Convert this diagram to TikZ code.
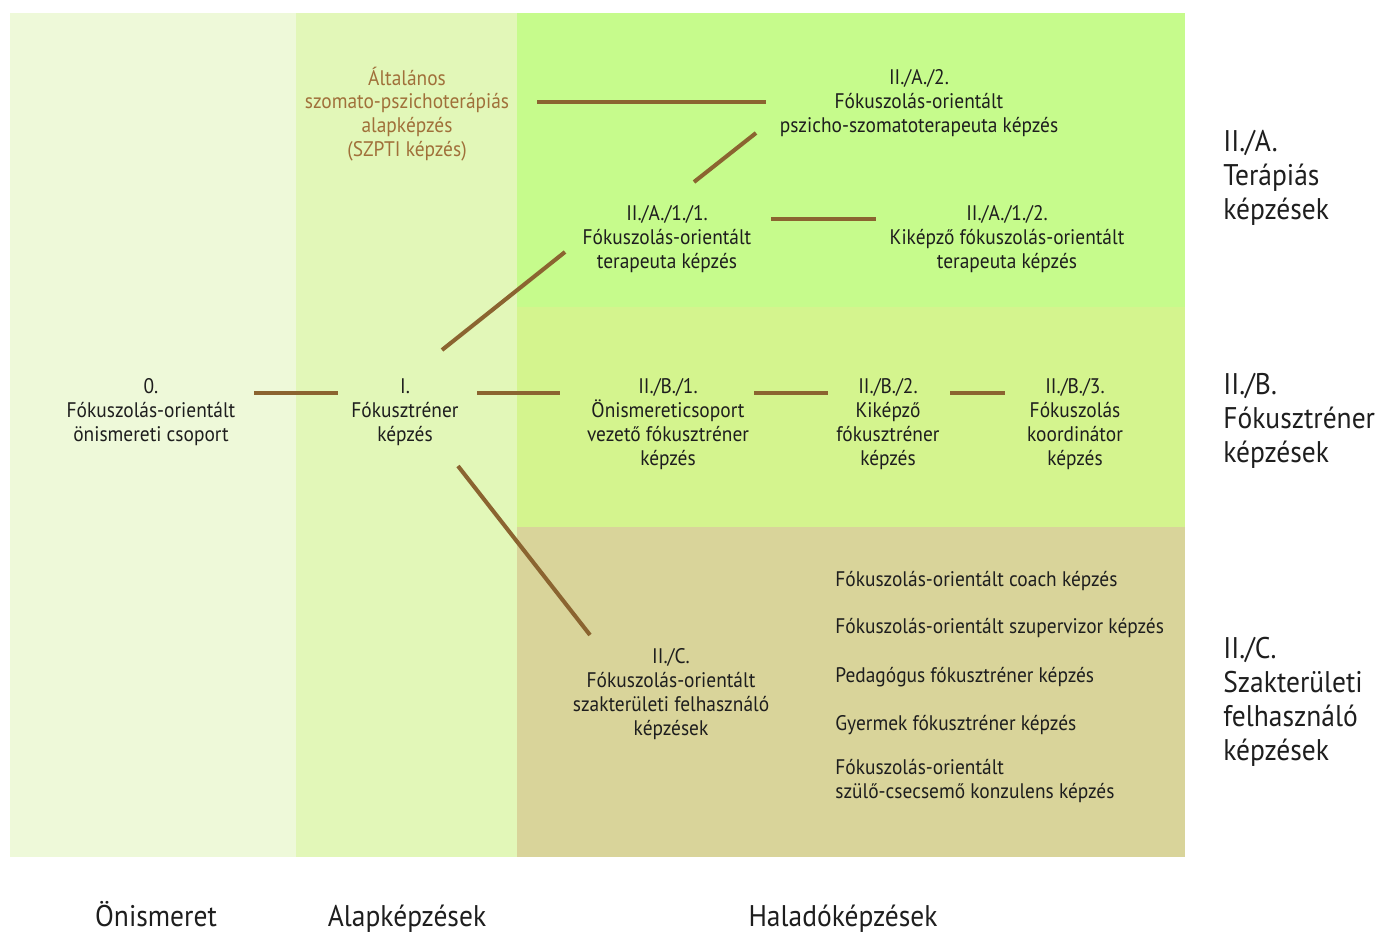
\documentclass[tikz,border=0pt]{standalone}
\usepackage{fontspec}
\setmainfont{PT Sans}[FakeStretch=0.92]
\usetikzlibrary{positioning}
\definecolor{onism}{RGB}{238,249,217}
\definecolor{alap}{RGB}{226,247,184}
\definecolor{terap}{RGB}{198,251,140}
\definecolor{trener}{RGB}{212,244,142}
\definecolor{szakt}{RGB}{217,212,154}
\definecolor{barna}{RGB}{139,100,48}
\definecolor{barnatxt}{RGB}{160,112,58}
\definecolor{txt}{RGB}{30,30,30}

\begin{document}
\begin{tikzpicture}[x=0.02cm, y=-0.02cm,
                    box/.style = {align=center, inner sep=0pt, text=txt,
                                  font=\fontsize{12}{13.6}\selectfont},
                    item/.style = {align=left, anchor=west, inner sep=0pt, text=txt,
                                   font=\fontsize{12}{13.6}\selectfont},
                    side/.style = {align=left, anchor=west, inner sep=0pt, text=txt,
                                   font=\fontsize{17}{19.3}\selectfont},
                    foot/.style = {anchor=base, inner sep=0pt, text=txt, font=\fontsize{17}{20}\selectfont},
                    link/.style = {draw=barna, line width=2.3pt}]
    \useasboundingbox (0,0) rectangle (1378,935);

    % columns and bands
    \fill[onism] (10,13) rectangle (296,857);
    \fill[alap] (296,13) rectangle (517,857);
    \fill[terap] (517,13) rectangle (1185,307);
    \fill[trener] (517,307) rectangle (1185,527);
    \fill[szakt] (517,527) rectangle (1185,857);

    \node[box] (n0) at (151,412) {0.\\Fókuszolás-orientált\\önismereti csoport};
    \node[box] (nI) at (405,412) {I.\\Fókusztréner\\képzés};
    \node[box, text=barnatxt] (szpti) at (407,114)
        {Általános\\szomato-pszichoterápiás\\alapképzés\\(SZPTI képzés)};
    \node[box] (a2) at (919,103) {II./A./2.\\Fókuszolás-orientált\\pszicho-szomatoterapeuta képzés};
    \node[box] (a11) at (667,239) {II./A./1./1.\\Fókuszolás-orientált\\terapeuta képzés};
    \node[box] (a12) at (1007,239) {II./A./1./2.\\Kiképző fókuszolás-orientált\\terapeuta képzés};
    \node[box] (b1) at (668,424) {II./B./1.\\Önismereticsoport\\vezető fókusztréner\\képzés};
    \node[box] (b2) at (888,424) {II./B./2.\\Kiképző\\fókusztréner\\képzés};
    \node[box] (b3) at (1075,424) {II./B./3.\\Fókuszolás\\koordinátor\\képzés};
    \node[box] (c) at (671,694) {II./C.\\Fókuszolás-orientált\\szakterületi felhasználó\\képzések};

    % szakteruleti list
    \node[item] (c1) at (835,581) {Fókuszolás-orientált coach képzés};
    \node[item] (c2) at (835,628) {Fókuszolás-orientált szupervizor képzés};
    \node[item] (c3) at (835,677) {Pedagógus fókusztréner képzés};
    \node[item] (c4) at (835,725) {Gyermek fókusztréner képzés};
    \node[item] (c5) at (835,781) {Fókuszolás-orientált\\szülő-csecsemő konzulens képzés};

    \node[side] (sa) at (1223,178) {II./A.\\Terápiás\\képzések};
    \node[side] (sb) at (1223,421) {II./B.\\Fókusztréner\\képzések};
    \node[side] (sc) at (1223,702) {II./C.\\Szakterületi\\felhasználó\\képzések};

    \node[foot] (f0) at (156,926) {Önismeret};
    \node[foot] (f1) at (407,926) {Alapképzések};
    \node[foot] (f2) at (843,926) {Haladóképzések};

    \draw[link] ([shift={(103,-19)}]n0.center) -- ([shift={(-67,-19)}]nI.center);
    \draw[link] ([shift={(72,-19)}]nI.center) -- ([shift={(-108,-31)}]b1.center);
    \draw[link] ([shift={(86,-31)}]b1.center) -- ([shift={(-60,-31)}]b2.center);
    \draw[link] ([shift={(62,-31)}]b2.center) -- ([shift={(-70,-31)}]b3.center);
    \draw[link] ([shift={(37,-62)}]nI.center) -- ([shift={(-102,13)}]a11.center);
    \draw[link] ([shift={(27,-57)}]a11.center) -- ([shift={(-163,30)}]a2.center);
    \draw[link] ([shift={(130,-12)}]szpti.center) -- ([shift={(-153,-1)}]a2.center);
    \draw[link] ([shift={(104,-20)}]a11.center) -- ([shift={(-131,-20)}]a12.center);
    \draw[link] ([shift={(53,54)}]nI.center) -- ([shift={(-81,-59)}]c.center);
\end{tikzpicture}
\end{document}
